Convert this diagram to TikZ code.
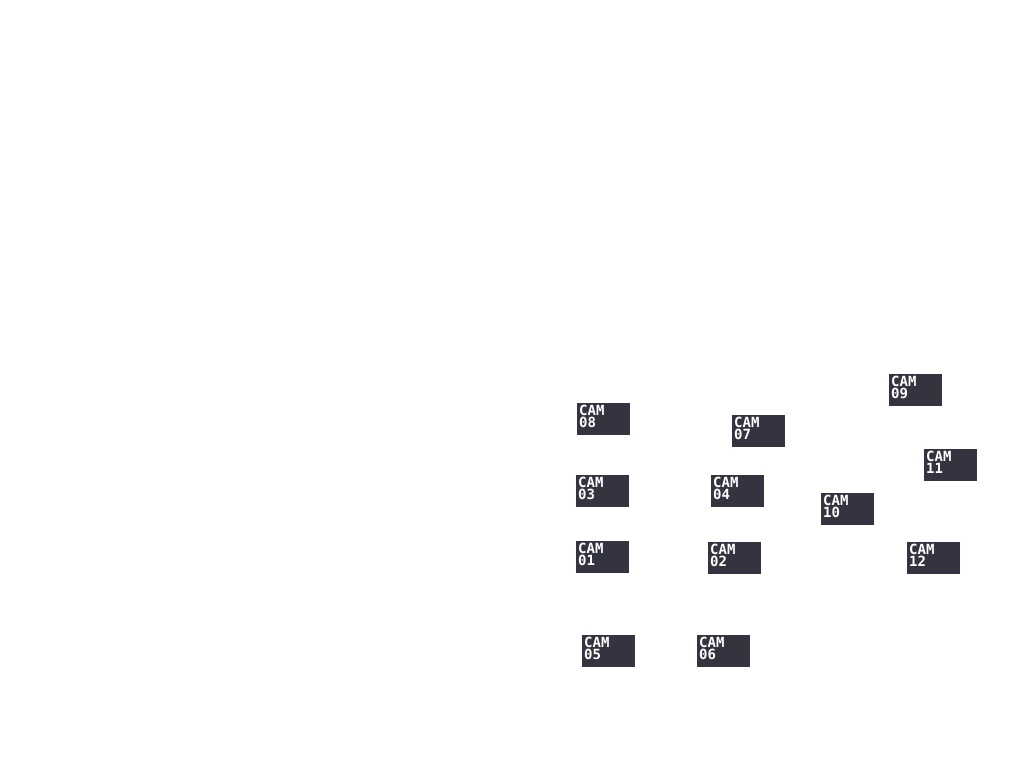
\documentclass[tikz,border=0pt]{standalone}
\usepackage{fontspec}
\newfontfamily\camfont{DejaVu Sans Mono}
\usetikzlibrary{positioning}
\definecolor{camgray}{HTML}{33343F}
\tikzset{
  camtag/.style={anchor=north west,fill=camgray,inner sep=0pt,
    minimum width=53pt,minimum height=32pt},
  camtext/.style={anchor=north west,inner sep=0pt,text=white,align=left,
    font=\camfont\bfseries\fontsize{14}{12}\selectfont}
}
\begin{document}
\begin{tikzpicture}[x=1pt,y=-1pt]
  \useasboundingbox (0,0) rectangle (1024,768);
  % camera tags
  \foreach \n/\x/\y in {09/889/374, 08/577/403, 07/732/415, 11/924/449,
      03/576/475, 04/711/475, 10/821/493, 01/576/541, 02/708/542,
      12/907/542, 05/582/635, 06/697/635} {
    \node[camtag] (cam\n) at (\x,\y) {};
    \node[camtext] (lbl\n) at ([xshift=2pt,yshift=-2pt]cam\n.north west) {CAM\\\n};
  }
\end{tikzpicture}
\end{document}
